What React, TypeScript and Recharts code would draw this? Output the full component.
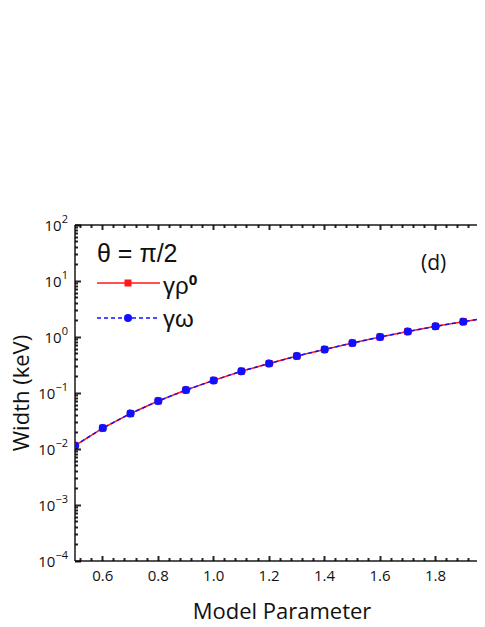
import React from 'react'
import { LineChart, Line, XAxis, YAxis } from 'recharts'

// model parameter values (x)
const params = [0.5, 0.6, 0.7, 0.8, 0.9, 1.0, 1.1, 1.2, 1.3, 1.4, 1.5, 1.6, 1.7, 1.8, 1.9, 2.0]
// widths in keV
const widthRho = [0.0115, 0.0236, 0.043, 0.072, 0.113, 0.168, 0.245, 0.336, 0.456, 0.6, 0.78, 1.0, 1.25, 1.55, 1.88, 2.25]
const widthOmega = [0.0115, 0.0236, 0.043, 0.072, 0.113, 0.168, 0.245, 0.336, 0.456, 0.6, 0.78, 1.0, 1.25, 1.55, 1.88, 2.25]

const xMajorTicks = [0.6, 0.8, 1.0, 1.2, 1.4, 1.6, 1.8, 2.0]
const yDecades = [1e-4, 1e-3, 1e-2, 1e-1, 1, 10, 100]
const yExponents = ['−4', '−3', '−2', '−1', '0', '1', '2']

const AXIS = '#1a1a1a'
const RED = '#ff1a1a'
const BLUE = '#1010ff'
const TICK_FONT = '"Open Sans", "Noto Sans", sans-serif'
const SYMBOL_FONT = '"Liberation Sans", Arial, sans-serif'

// minor ticks: every 0.04 on x, 2..9 per decade on y
const xTicks: number[] = []
for (let v = 0.52; v <= 2.0001; v += 0.04) xTicks.push(Math.round(v * 100) / 100)
const yTicks: number[] = []
yDecades.forEach((d, i) => {
  yTicks.push(d)
  if (i < yDecades.length - 1) for (let k = 2; k <= 9; k++) yTicks.push(k * d)
})

const chartData = params.map((p, i) => ({ p, rho: widthRho[i], omega: widthOmega[i] }))

const isMajorX = (v: number) => xMajorTicks.some(m => Math.abs(m - v) < 1e-6)
const decadeIndex = (v: number) => yDecades.findIndex(d => Math.abs(v / d - 1) < 1e-6)

// ticks point into the plot, drawn by hand from the tick anchor, snapped to whole pixels
const BottomTick = (props: any) => {
  const { x, y, payload } = props
  const major = isMajorX(payload.value)
  const len = major ? 5 : 3
  return (
    <g>
      <path d={`M${Math.floor(x) + 0.5},${y}V${y - len}`} stroke="#000" strokeWidth={2} strokeOpacity={0.85} />
      {major && (
        <text x={x} y={y + 14} textAnchor="middle" dominantBaseline="central"
          fontFamily={TICK_FONT} fontSize={15} fill="#111">
          {payload.value.toFixed(1)}
        </text>
      )}
    </g>
  )
}

const TopTick = (props: any) => {
  const { x, y, payload } = props
  const len = isMajorX(payload.value) ? 5 : 3
  return (
    <g>
      <path d={`M${Math.floor(x) + 0.5},${y}V${y + len}`} stroke="#000" strokeWidth={2} strokeOpacity={0.85} />
    </g>
  )
}

const LeftTick = (props: any) => {
  const { x, y, payload } = props
  const idx = decadeIndex(payload.value)
  const major = idx >= 0
  const len = major ? 6 : 3
  return (
    <g>
      <path d={`M${x},${Math.floor(y) + 0.5}H${x + len}`} stroke="#000" strokeWidth={2} strokeOpacity={0.85} />
      {major && (
        <text x={x - 7} y={y} textAnchor="end" dominantBaseline="central"
          fontFamily={TICK_FONT} fontSize={15} fill="#111">
          10<tspan dy={-7} fontSize={11}>{yExponents[idx]}</tspan>
        </text>
      )}
    </g>
  )
}

const SquareDot = (props: any) => {
  const { cx, cy, index } = props
  if (cx == null || cy == null) return <g key={index} />
  return <rect key={index} x={cx - 3.5} y={cy - 3.5} width={7} height={7} fill={RED} />
}

const textBase: React.CSSProperties = {
  position: 'absolute', color: '#111', lineHeight: 1, whiteSpace: 'nowrap',
}

export default function App() {
  return (
    <div style={{ position: 'relative', width: 477, height: 611, overflow: 'hidden', fontFamily: TICK_FONT }}>
      <LineChart width={500} height={611} data={chartData} margin={{ top: 207, right: 17, bottom: 0, left: 0 }}>
        <XAxis dataKey="p" type="number" domain={[0.5, 2.0]} allowDataOverflow ticks={xTicks} interval={0}
          tickSize={0} tickMargin={0} tickLine={false} tick={<BottomTick />} height={58}
          axisLine={{ stroke: AXIS, strokeWidth: 1.5 }} />
        <XAxis xAxisId="top" dataKey="p" orientation="top" type="number" domain={[0.5, 2.0]} allowDataOverflow
          ticks={xTicks} interval={0} tickSize={0} tickMargin={0} tickLine={false} tick={<TopTick />} height={10}
          axisLine={{ stroke: AXIS, strokeWidth: 1.5 }} />
        <YAxis type="number" scale="log" domain={[1e-4, 100]} allowDataOverflow ticks={yTicks} interval={0}
          tickSize={0} tickMargin={0} tickLine={false} tick={<LeftTick />} width={67}
          axisLine={{ stroke: AXIS, strokeWidth: 1.5 }} />
        {/* invisible series so the top mirror axis has data */}
        <Line xAxisId="top" type="linear" dataKey="rho" stroke="none" dot={false} legendType="none" isAnimationActive={false} />
        <Line type="linear" dataKey="rho" stroke={RED} strokeWidth={1.5} dot={SquareDot} isAnimationActive={false} />
        <Line type="linear" dataKey="omega" stroke={BLUE} strokeWidth={1.5} strokeDasharray="4 3"
          dot={{ r: 4, fill: BLUE, stroke: BLUE, strokeWidth: 0.5 }} isAnimationActive={false} />
      </LineChart>

      {/* axis titles */}
      <div style={{
        ...textBase, left: 12, top: 385, fontSize: 22,
        writingMode: 'vertical-rl', transform: 'translate(-50%, -50%) rotate(180deg)',
      }}>
        Width (keV)
      </div>
      <div style={{ ...textBase, left: 274, top: 602, transform: 'translate(-50%, -50%)', fontSize: 22, lineHeight: '16px' }}>
        Model Parameter
      </div>

      {/* legend */}
      <div style={{ ...textBase, left: 89, top: 245, transform: 'translateY(-50%)', fontFamily: SYMBOL_FONT, fontSize: 25 }}>
        θ = π/2
      </div>
      <svg style={{ position: 'absolute', left: 89, top: 266 }} width={64} height={18}>
        <line x1={0} y1={9} x2={63} y2={9} stroke={RED} strokeWidth={1.5} />
        <rect x={27.5} y={5.5} width={7} height={7} fill={RED} />
      </svg>
      <div style={{ ...textBase, left: 155, top: 277, transform: 'translateY(-50%)', fontFamily: SYMBOL_FONT, fontSize: 24 }}>
        γρ<sup style={{ fontWeight: 'bold', fontFamily: TICK_FONT, fontSize: 15, verticalAlign: '0.55em' }}>0</sup>
      </div>
      <svg style={{ position: 'absolute', left: 89, top: 301 }} width={64} height={18}>
        <line x1={0} y1={9} x2={63} y2={9} stroke={BLUE} strokeWidth={1.5} strokeDasharray="4 3" />
        <circle cx={31} cy={9} r={4} fill={BLUE} />
      </svg>
      <div style={{ ...textBase, left: 155, top: 311, transform: 'translateY(-50%)', fontFamily: SYMBOL_FONT, fontSize: 24 }}>
        γω
      </div>

      {/* panel tag */}
      <div style={{ ...textBase, left: 413, top: 254, transform: 'translateY(-50%)', fontSize: 21 }}>
        (d)
      </div>
    </div>
  )
}
